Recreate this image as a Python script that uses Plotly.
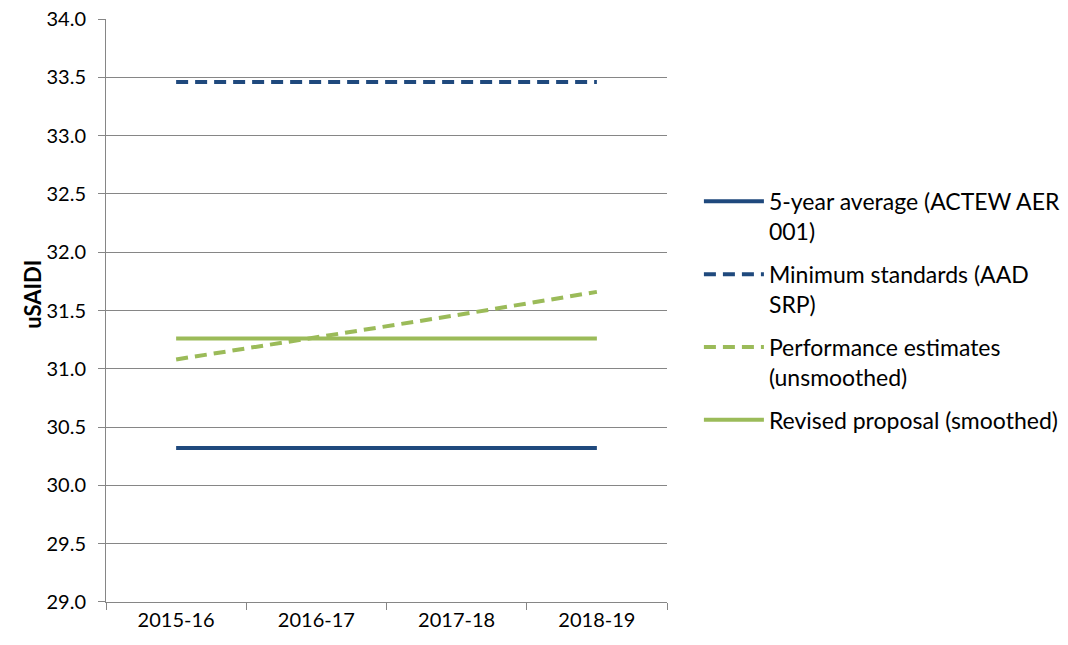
import plotly.graph_objects as go

categories = ["2015-16", "2016-17", "2017-18", "2018-19"]
five_year_avg = [30.32, 30.32, 30.32, 30.32]
min_standards = [33.46, 33.46, 33.46, 33.46]
perf_estimates = [31.08, 31.27, 31.46, 31.66]
revised_proposal = [31.26, 31.26, 31.26, 31.26]

names = [
    "5-year average (ACTEW AER<br>001)",
    "Minimum standards (AAD<br>SRP)",
    "Performance estimates<br>(unsmoothed)",
    "Revised proposal (smoothed)",
]

blue = "#1F497D"
green = "#9BBB59"

fig = go.Figure()
series = [
    (five_year_avg, blue, "solid"),
    (min_standards, blue, "12px,7px"),
    (perf_estimates, green, "12px,7px"),
    (revised_proposal, green, "solid"),
]
for i, (vals, col, dash) in enumerate(series):
    fig.add_trace(go.Scatter(
        x=categories, y=vals, mode="lines", name=names[i],
        legendgroup=f"g{i}",
        line=dict(color=col, width=4, dash=dash),
    ))

font = "Lato, Open Sans, sans-serif"
fs = 20
fig.update_layout(
    width=1068, height=645,
    margin=dict(l=98, r=408, t=11, b=51),
    plot_bgcolor="white", paper_bgcolor="white",
    font=dict(family=font, size=fs, color="#000000"),
    showlegend=True,
    legend=dict(
        x=1.055, xanchor="left", y=0.724, yanchor="top",
        font=dict(size=23, family=font),
        tracegroupgap=10, traceorder="grouped",
        itemwidth=60, valign="top",
    ),
    xaxis=dict(
        type="category", showgrid=False, range=[-0.5, 3.5], automargin=False,
        showline=True, linecolor="#868686", linewidth=1,
        ticks="outside", tickson="boundaries", ticklen=7, tickcolor="#868686",
        tickfont=dict(size=fs, family=font),
    ),
    yaxis=dict(
        range=[28.999, 34.001], tickmode="linear", tick0=29, dtick=0.5,
        tickformat=".1f", automargin=False, ticklabeloverflow="allow",
        showgrid=True, gridcolor="#868686", gridwidth=1,
        showline=True, linecolor="#868686", linewidth=1,
        ticks="outside", ticklen=7, tickcolor="#868686",
        tickfont=dict(size=fs, family=font), ticklabelstandoff=8,
        zeroline=False,
    ),
    annotations=[dict(
        text="<b>uSAIDI</b>", textangle=-90, showarrow=False,
        xref="paper", yref="paper", x=-0.13, y=0.527,
        xanchor="center", yanchor="middle",
        font=dict(size=22, family=font, color="#000000"),
    )],
)

fig.write_html("out.html")
